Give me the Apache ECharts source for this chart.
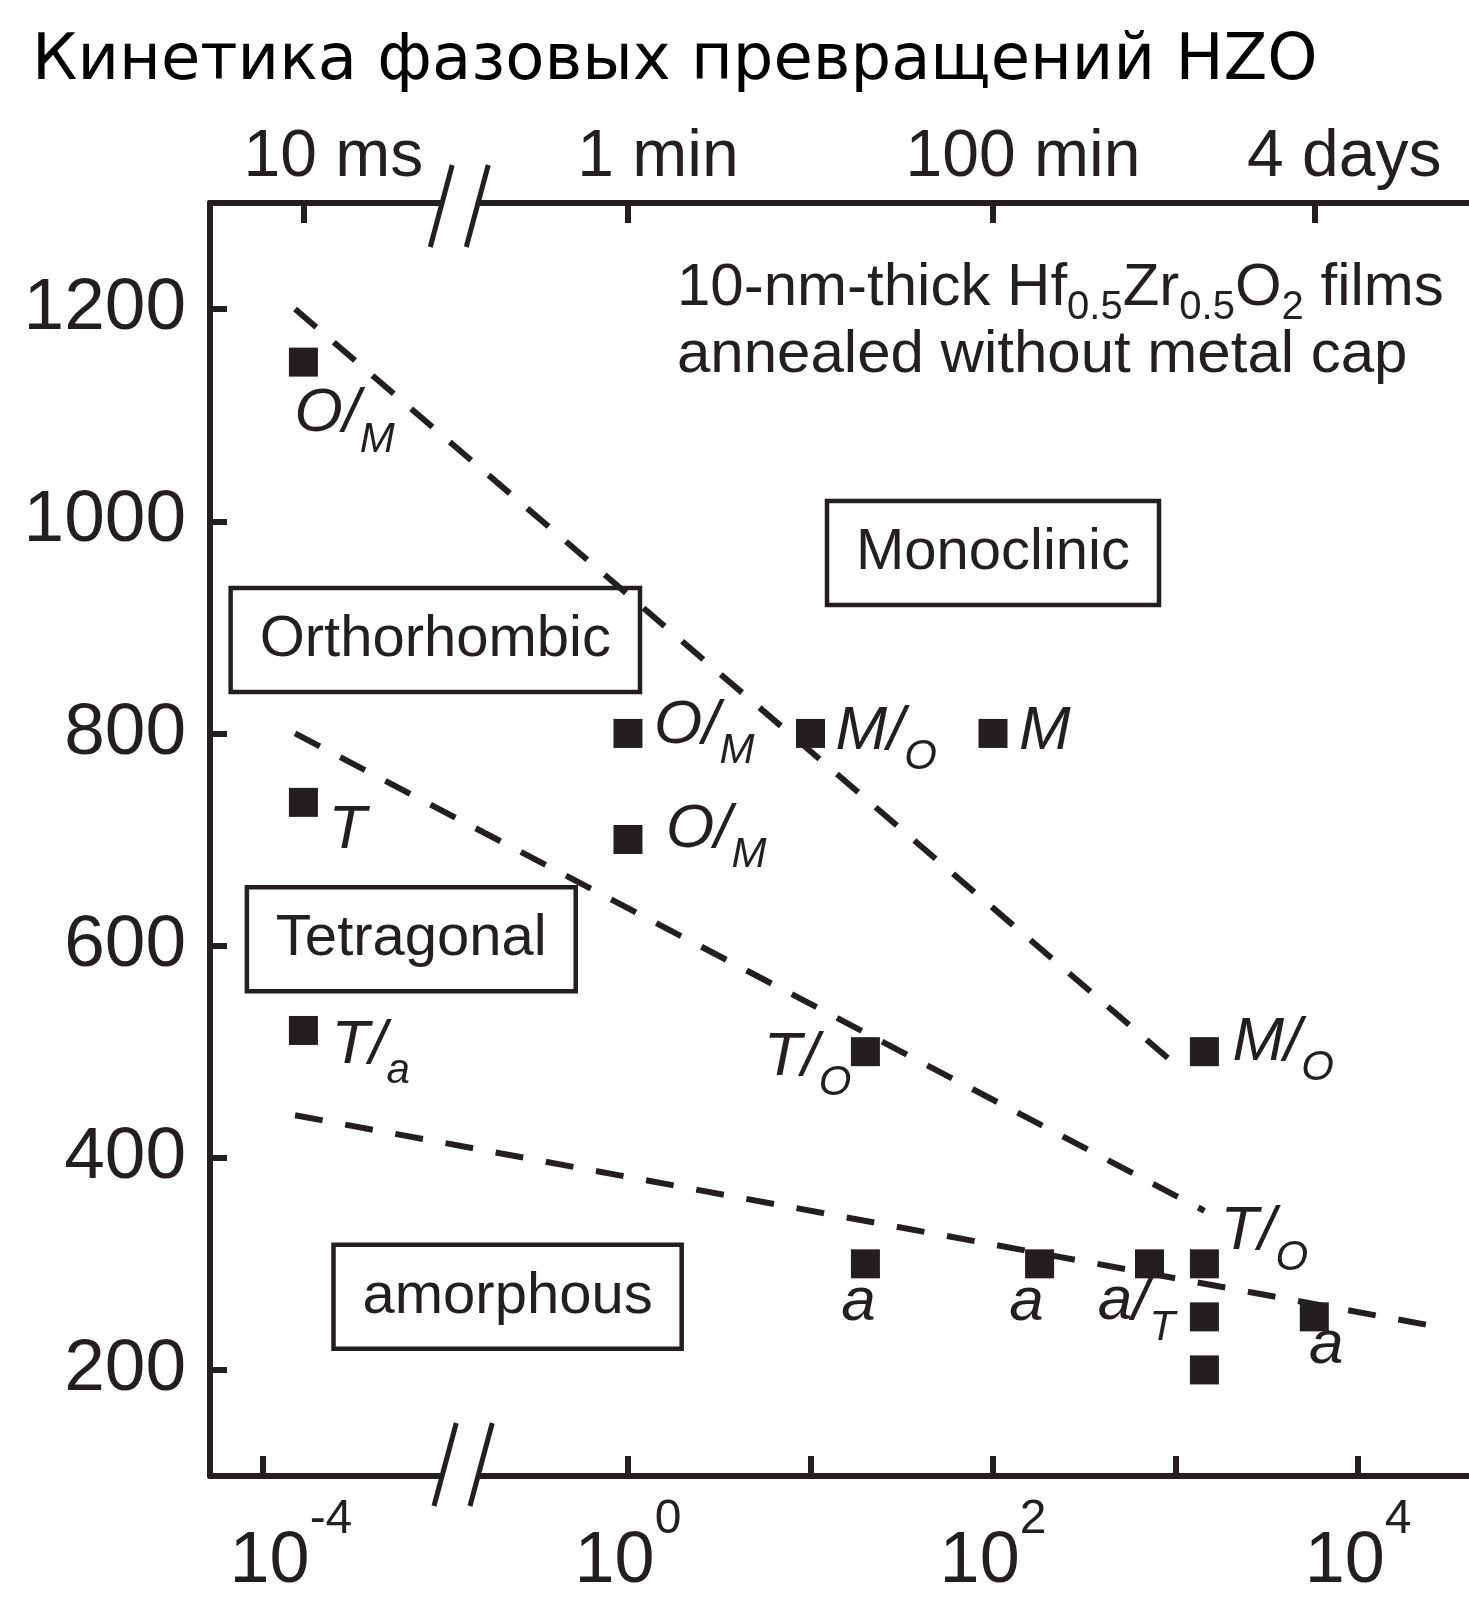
<!DOCTYPE html>
<html><head><meta charset="utf-8">
<script src="https://cdn.jsdelivr.net/npm/echarts@6/dist/echarts.min.js"></script>
<style>html,body{margin:0;padding:0;background:#fff}#c{width:1469px;height:1600px}</style>
</head><body><div id="c"></div>
<script>
// ---------------- data ----------------
// annealing time in minutes, temperature in °C
const pointTimeMin = [1/6000, 1/6000, 1/6000, 1, 1, 10, 100, 20, 20, 180, 720, 1440, 1440, 1440, 1440, 5760];
const pointTempC   = [1150, 735, 520, 800, 700, 800, 800, 500, 300, 300, 300, 500, 300, 250, 200, 250];
const pointPhase   = ['O/M','T','T/a','O/M','O/M','M/O','M','T/O','a','a','a/T','M/O','T/O','','','a'];

const boundaryOM = [[1.5e-4, 1200], [1130, 480]];
const boundaryTO = [[1.5e-4, 800], [1440, 350]];
const boundaryAT = [[1.5e-4, 440], [28500, 240]];

const regionNames   = ['Monoclinic', 'Orthorhombic', 'Tetragonal', 'amorphous'];
const regionTimeMin = [100, 8.8e-4, 6.5e-4, 0.219];
const regionTempC   = [970, 888, 606, 269];

const bottomTickExps  = [-4, 0, 1, 2, 3, 4];
const bottomLabelExps = [-4, 0, 2, 4];
const topTickTimesMin = [1/6000, 1, 100, 5760];
const topTickLabels   = ['10 ms', '1 min', '100 min', '4 days'];
const tempTicks       = [200, 400, 600, 800, 1000, 1200];

const titleText = 'Кинетика фазовых превращений HZO';
const noteLine1 = ['10-nm-thick Hf', '0.5', 'Zr', '0.5', 'O', '2', ' films'];
const noteLine2 = 'annealed without metal cap';

// ---------------- axis transform (broken log axis) ----------------
const LEFT_SHIFT = 2, BREAK_T = 0.01, BREAK_X = -0.92;
const X_MIN = -2.29, X_MAX = 4.608;
function toAxisX(t) { return Math.log10(t) + (t < BREAK_T ? LEFT_SHIFT : 0); }

// ---------------- styles ----------------
const INK = '#231f20';
const SANS = 'Liberation Sans';
const SYM = 29;
// label placement relative to the square's centre: [dx, dy] of the label box's anchor
const labelPlace = [
  {align:'left',   off:[-9, 21]},
  {align:'left',   off:[25, -3]},
  {align:'left',   off:[28, -16]},
  {align:'left',   off:[26, -39]},
  {align:'left',   off:[38, -41]},
  {align:'left',   off:[25, -33]},
  {align:'left',   off:[26, -33]},
  {align:'right',  off:[-14, -25]},
  {align:'center', off:[-7, 8]},
  {align:'center', off:[-13, 8]},
  {align:'center', off:[-13, 7]},
  {align:'left',   off:[28, -40]},
  {align:'left',   off:[16, -63]},
  null, null,
  {align:'center', off:[12, -2]}
];

function phaseRich(s) {
  const i = s.indexOf('/');
  if (i < 0) return '{m|' + s + '}';
  return '{m|' + s.slice(0, i + 1) + '}{s|' + s.slice(i + 1) + '}';
}

const pointData = pointTimeMin.map((t, i) => {
  const p = labelPlace[i];
  const item = { value: [toAxisX(t), pointTempC[i]] };
  if (p && pointPhase[i]) {
    item.label = {
      show: true, position: [SYM / 2 + p.off[0], SYM / 2 + p.off[1]],
      align: p.align, verticalAlign: 'top',
      formatter: phaseRich(pointPhase[i])
    };
  }
  return item;
});

const regionData = regionNames.map((n, i) => ({ name: n, value: [toAxisX(regionTimeMin[i]), regionTempC[i]] }));

const lineSeries = [boundaryOM, boundaryTO, boundaryAT].map(b => ({
  type: 'line', symbol: 'none', silent: true, z: 2,
  data: b.map(p => [toAxisX(p[0]), p[1]]),
  lineStyle: { color: INK, width: 6, type: [28, 23], opacity: 1 }
}));

const chart = echarts.init(document.getElementById('c'), null, { renderer: 'canvas' });

const option = {
  animation: false,
  backgroundColor: '#fff',
  title: {
    text: titleText, left: 27, top: 25,
    textStyle: { fontFamily: 'DejaVu Sans', fontSize: 64, fontWeight: 'normal', color: '#000' }
  },
  grid: { left: 210, top: 203, right: 0, bottom: 124, containLabel: false },
  xAxis: [
    {
      type: 'value', position: 'bottom', min: X_MIN, max: X_MAX,
      splitLine: { show: false },
      axisLine: { show: true, onZero: false, lineStyle: { color: INK, width: 6 } },
      axisTick: { show: true, inside: true, length: 20, lineStyle: { color: INK, width: 6 },
                  customValues: bottomTickExps.map(e => toAxisX(Math.pow(10, e))) },
      axisLabel: {
        show: true, margin: 20,
        customValues: bottomLabelExps.map(e => toAxisX(Math.pow(10, e))),
        formatter: v => {
          const e = Math.round(v < BREAK_X ? v - LEFT_SHIFT : v);
          return (e === -4 ? '{bp|10}' : '{b|10}') + '{p|' + e + '}';
        },
        rich: {
          b:  { fontFamily: SANS, fontSize: 72, lineHeight: 72, color: INK, padding: [30, 0, 0, 0], verticalAlign: 'top' },
          bp: { fontFamily: SANS, fontSize: 72, lineHeight: 72, color: INK, padding: [30, 0, 0, 56], verticalAlign: 'top' },
          p:  { fontFamily: SANS, fontSize: 48, lineHeight: 48, color: INK, verticalAlign: 'top' }
        }
      }
    },
    {
      type: 'value', position: 'top', min: X_MIN, max: X_MAX,
      splitLine: { show: false },
      axisLine: { show: true, onZero: false, lineStyle: { color: INK, width: 6 } },
      axisTick: { show: true, inside: true, length: 20, lineStyle: { color: INK, width: 6 },
                  customValues: topTickTimesMin.map(toAxisX) },
      axisLabel: {
        show: true, margin: 12, fontFamily: SANS, fontSize: 66, lineHeight: 66, color: INK,
        padding: [0, 0, 0, 60],
        customValues: topTickTimesMin.map(toAxisX),
        formatter: v => {
          let best = 0, bd = Infinity;
          topTickTimesMin.forEach((t, i) => { const d = Math.abs(toAxisX(t) - v); if (d < bd) { bd = d; best = i; } });
          return topTickLabels[best];
        }
      }
    }
  ],
  yAxis: {
    type: 'value', min: 100, max: 1300,
    splitLine: { show: false },
    axisLine: { show: true, onZero: false, lineStyle: { color: INK, width: 6 } },
    axisTick: { show: true, inside: true, length: 17, lineStyle: { color: INK, width: 6 }, customValues: tempTicks },
    axisLabel: { show: true, margin: 24, fontFamily: SANS, fontSize: 73, color: INK, customValues: tempTicks,
                 formatter: v => String(v) }
  },
  series: [
    ...lineSeries,
    {
      type: 'scatter', z: 3, symbol: 'rect', symbolSize: SYM,
      itemStyle: { color: INK, opacity: 1 },
      data: pointData,
      label: {
        show: false, color: INK,
        rich: {
          m: { fontFamily: SANS, fontStyle: 'italic', fontSize: 62, lineHeight: 62, color: INK, verticalAlign: 'top' },
          s: { fontFamily: SANS, fontStyle: 'italic', fontSize: 42, lineHeight: 42, color: INK, verticalAlign: 'top', padding: [36, 0, 0, 0] }
        }
      },
      emphasis: { disabled: true },
      labelLayout: { hideOverlap: false }
    },
    {
      type: 'scatter', z: 4, symbolSize: 0, silent: true,
      itemStyle: { opacity: 1 },
      data: regionData,
      label: {
        show: true, position: 'inside', formatter: p => p.name,
        fontFamily: SANS, fontSize: 58, lineHeight: 58, color: INK,
        borderColor: INK, borderWidth: 4.5, padding: [23, 29]
      }
    }
  ]
};
chart.setOption(option);

// ---- decorations: axis break marks and film note ----
function buildGraphics() {
  const bx = chart.convertToPixel({ xAxisIndex: 0 }, BREAK_X);
  const yTop = chart.convertToPixel({ yAxisIndex: 0 }, 1300);
  const yBot = chart.convertToPixel({ yAxisIndex: 0 }, 100);
  const slope = 22 / 82;
  const g = [];
  function breakAt(y0, up, down) {
    g.push({ type: 'polygon', z: 100,
      shape: { points: [[bx - 19 + 8 * slope, y0 - 8], [bx + 19 + 8 * slope, y0 - 8], [bx + 19 - 8 * slope, y0 + 8], [bx - 19 - 8 * slope, y0 + 8]] },
      style: { fill: '#fff' } });
    [-18, 18].forEach(d => {
      g.push({ type: 'line', z: 101,
        shape: { x1: bx + d + up * slope, y1: y0 - up, x2: bx + d - down * slope, y2: y0 + down },
        style: { stroke: INK, lineWidth: 5 } });
    });
  }
  breakAt(yTop, 38, 44);
  breakAt(yBot, 53, 30);

  const xNote = 677;
  g.push({ type: 'text', z: 50, x: xNote, y: 258,
    style: {
      text: noteLine1.map((s, i) => (i % 2 === 0 ? '{n|' : '{s|') + s + '}').join(''),
      align: 'left', verticalAlign: 'top',
      rich: {
        n: { fontFamily: SANS, fontSize: 60, lineHeight: 60, fill: INK, verticalAlign: 'top' },
        s: { fontFamily: SANS, fontSize: 40, lineHeight: 40, fill: INK, verticalAlign: 'top', padding: [30, 0, 0, 0] }
      }
    } });
  g.push({ type: 'text', z: 50, x: xNote, y: 325,
    style: {
      text: '{n|' + noteLine2 + '}', align: 'left', verticalAlign: 'top',
      rich: { n: { fontFamily: SANS, fontSize: 60, lineHeight: 60, fill: INK, verticalAlign: 'top' } }
    } });
  return g;
}
chart.setOption({ graphic: buildGraphics() });
</script>
</body></html>
